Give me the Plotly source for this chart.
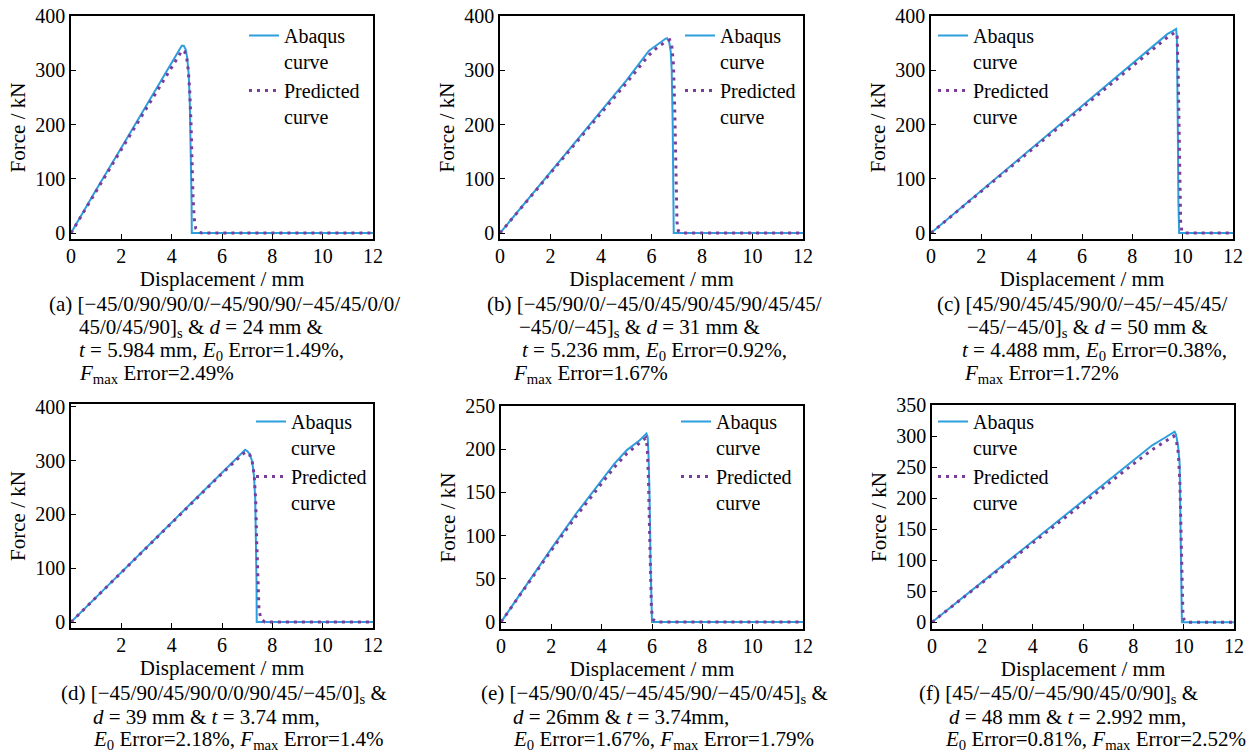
import plotly.graph_objects as go

# ---------------- data ----------------
series_names = ["Abaqus<br>curve", "Predicted<br>curve"]

a_abaqus_disp = [0, 1, 2, 3, 4, 4.2, 4.32, 4.4, 4.48, 4.56, 4.62, 4.68, 4.72, 4.76, 4.79, 4.8, 12]
a_abaqus_force = [0, 80, 157, 235, 312, 328, 339, 345, 345, 338, 322, 290, 240, 160, 60, 0, 0]
a_pred_disp = [0, 1, 2, 3, 4, 4.2, 4.32, 4.42, 4.52, 4.6, 4.66, 4.72, 4.77, 4.81, 4.85, 4.9, 4.96, 5.05, 5.2, 12]
a_pred_force = [0, 78, 154, 230, 305, 321, 331, 337, 334, 322, 300, 260, 200, 130, 65, 25, 8, 2, 0, 0]

b_abaqus_disp = [0, 1, 2, 3, 4, 5, 5.9, 6.3, 6.55, 6.62, 6.7, 6.76, 6.8, 6.84, 6.86, 6.88, 12]
b_abaqus_force = [0, 56, 112, 168, 225, 281, 336, 350, 358, 359, 352, 335, 300, 200, 100, 0, 0]
b_pred_disp = [0, 1, 2, 3, 4, 5, 5.9, 6.3, 6.6, 6.72, 6.8, 6.87, 6.92, 6.95, 6.98, 7.01, 7.06, 7.2, 12]
b_pred_force = [0, 55, 110, 165, 221, 276, 328, 345, 353, 356, 347, 310, 230, 150, 70, 20, 4, 0, 0]

c_abaqus_disp = [0, 2, 4, 6, 8, 9.4, 9.6, 9.74, 9.77, 9.79, 9.81, 9.83, 9.86, 12]
c_abaqus_force = [0, 78, 156, 234, 312, 367, 372, 376, 360, 300, 180, 60, 0, 0]
c_pred_disp = [0, 2, 4, 6, 8, 9.4, 9.7, 9.78, 9.82, 9.85, 9.88, 9.92, 9.97, 10.1, 12]
c_pred_force = [0, 77, 154, 231, 308, 361, 370, 362, 300, 180, 70, 18, 3, 0, 0]

d_abaqus_disp = [0, 1, 2, 3, 4, 5, 6, 6.85, 6.92, 7.02, 7.12, 7.2, 7.27, 7.32, 7.35, 7.37, 7.38, 12]
d_abaqus_force = [0, 46.5, 93, 139, 186, 232, 279, 318, 320, 317, 310, 298, 272, 230, 160, 80, 0, 0]
d_pred_disp = [0, 1, 2, 3, 4, 5, 6, 6.85, 6.97, 7.1, 7.2, 7.28, 7.34, 7.38, 7.42, 7.47, 7.55, 7.7, 12]
d_pred_force = [0, 46, 92, 138, 184, 230, 276, 313, 316, 311, 298, 272, 225, 150, 70, 22, 6, 0, 0]

e_abaqus_disp = [0, 1, 2, 3, 4, 4.5, 5, 5.5, 5.78, 5.83, 5.86, 5.9, 5.94, 5.97, 6.0, 12]
e_abaqus_force = [0, 43, 85, 126, 164, 183, 199, 210, 218, 214, 195, 150, 70, 20, 0, 0]
e_pred_disp = [0, 1, 2, 3, 4, 4.5, 5, 5.5, 5.75, 5.81, 5.86, 5.9, 5.94, 5.98, 6.04, 6.2, 12]
e_pred_force = [0, 42, 83, 123, 160, 179, 195, 207, 213, 203, 165, 110, 50, 14, 3, 0, 0]

f_abaqus_disp = [0, 2, 4, 6, 8, 8.75, 9.2, 9.64, 9.7, 9.78, 9.84, 9.87, 9.89, 9.91, 9.93, 12]
f_abaqus_force = [0, 65, 130, 195, 260, 285, 296, 307, 302, 283, 255, 190, 110, 40, 0, 0]
f_pred_disp = [0, 2, 4, 6, 8, 8.75, 9.2, 9.6, 9.7, 9.79, 9.85, 9.89, 9.93, 9.97, 10.02, 10.15, 12]
f_pred_force = [0, 64, 128, 191, 255, 278, 290, 300, 295, 272, 225, 140, 55, 14, 3, 0, 0]

x_ticks_full = [0, 2, 4, 6, 8, 10, 12]
x_ticks_no_zero = [2, 4, 6, 8, 10, 12]
y_ticks_400 = [0, 100, 200, 300, 400]
y_ticks_250 = [0, 50, 100, 150, 200, 250]
y_ticks_350 = [0, 50, 100, 150, 200, 250, 300, 350]

caption_a = ["(a) [−45/0/90/90/0/−45/90/90/−45/45/0/0/",
             "45/0/45/90]<sub>s</sub> & <i>d</i> = 24 mm &",
             "<i>t</i> = 5.984 mm, <i>E</i><sub>0</sub> Error=1.49%,",
             "<i>F</i><sub>max</sub> Error=2.49%"]
caption_b = ["(b) [−45/90/0/−45/0/45/90/45/90/45/45/",
             "−45/0/−45]<sub>s</sub> & <i>d</i> = 31 mm &",
             "<i>t</i> = 5.236 mm, <i>E</i><sub>0</sub> Error=0.92%,",
             "<i>F</i><sub>max</sub> Error=1.67%"]
caption_c = ["(c) [45/90/45/45/90/0/−45/−45/45/",
             "−45/−45/0]<sub>s</sub> & <i>d</i> = 50 mm &",
             "<i>t</i> = 4.488 mm, <i>E</i><sub>0</sub> Error=0.38%,",
             "<i>F</i><sub>max</sub> Error=1.72%"]
caption_d = ["(d) [−45/90/45/90/0/0/90/45/−45/0]<sub>s</sub> &",
             "<i>d</i> = 39 mm & <i>t</i> = 3.74 mm,",
             "<i>E</i><sub>0</sub> Error=2.18%, <i>F</i><sub>max</sub> Error=1.4%"]
caption_e = ["(e) [−45/90/0/45/−45/45/90/−45/0/45]<sub>s</sub> &",
             "<i>d</i> = 26mm & <i>t</i> = 3.74mm,",
             "<i>E</i><sub>0</sub> Error=1.67%, <i>F</i><sub>max</sub> Error=1.79%"]
caption_f = ["(f) [45/−45/0/−45/90/45/0/90]<sub>s</sub> &",
             "<i>d</i> = 48 mm & <i>t</i> = 2.992 mm,",
             "<i>E</i><sub>0</sub> Error=0.81%, <i>F</i><sub>max</sub> Error=2.52%"]

# ---------------- styling / layout ----------------
W, H = 1255, 754
FONT = "Liberation Serif"
BLUE = "#2d9fdd"
PURPLE = "#7a3d9c"


def fx(p):
    return p / W


def fy(p):
    return 1 - p / H


panels = [
    dict(ax=(a_abaqus_disp, a_abaqus_force), pr=(a_pred_disp, a_pred_force),
         xd=(71, 373), yd=(16, 239), yr=(-11, 400), xt=x_ticks_full, yt=y_ticks_400,
         leg=(244, 16), cap=caption_a, capx=[47, 77, 77, 77], capy=[304, 328, 351, 374]),
    dict(ax=(b_abaqus_disp, b_abaqus_force), pr=(b_pred_disp, b_pred_force),
         xd=(500, 803), yd=(16, 239), yr=(-11, 400), xt=x_ticks_full, yt=y_ticks_400,
         leg=(680, 16), cap=caption_b, capx=[485, 517, 520, 511], capy=[304, 328, 351, 374]),
    dict(ax=(c_abaqus_disp, c_abaqus_force), pr=(c_pred_disp, c_pred_force),
         xd=(931, 1233), yd=(16, 239), yr=(-11, 400), xt=x_ticks_full, yt=y_ticks_400,
         leg=(933, 16), cap=caption_c, capx=[935, 965, 960, 962], capy=[304, 328, 351, 374]),
    dict(ax=(d_abaqus_disp, d_abaqus_force), pr=(d_pred_disp, d_pred_force),
         xd=(71, 373), yd=(404, 628), yr=(-11, 405), xt=x_ticks_no_zero, yt=y_ticks_400,
         leg=(251, 402), cap=caption_d, capx=[59, 91, 91], capy=[694, 717, 740]),
    dict(ax=(e_abaqus_disp, e_abaqus_force), pr=(e_pred_disp, e_pred_force),
         xd=(501, 803), yd=(406, 629), yr=(-8, 250), xt=x_ticks_full, yt=y_ticks_250,
         leg=(676, 402), cap=caption_e, capx=[479, 511, 511], capy=[694, 717, 740]),
    dict(ax=(f_abaqus_disp, f_abaqus_force), pr=(f_pred_disp, f_pred_force),
         xd=(932, 1234), yd=(405, 629), yr=(-11, 350), xt=x_ticks_full, yt=y_ticks_350,
         leg=(933, 402), cap=caption_f, capx=[917, 947, 943], capy=[694, 717, 740]),
]

fig = go.Figure()
annotations = []
layout = dict(
    width=W, height=H,
    margin=dict(l=0, r=0, t=0, b=0, pad=0, autoexpand=False),
    paper_bgcolor="white", plot_bgcolor="white",
    font=dict(family=FONT, size=20, color="black"),
)

for i, p in enumerate(panels, start=1):
    sfx = "" if i == 1 else str(i)
    legname = "legend" + sfx
    xname, yname = "x" + sfx, "y" + sfx
    fig.add_trace(go.Scatter(
        x=p["ax"][0], y=p["ax"][1], mode="lines", name=series_names[0],
        line=dict(color=BLUE, width=2), xaxis=xname, yaxis=yname, legend=legname))
    fig.add_trace(go.Scatter(
        x=p["pr"][0], y=p["pr"][1], mode="lines", name=series_names[1],
        line=dict(color=PURPLE, width=3, dash="3px,5px"), xaxis=xname, yaxis=yname,
        legend=legname))

    common = dict(showgrid=False, zeroline=False, showline=True, linecolor="black",
                  linewidth=1.5, mirror=True, ticks="inside", ticklen=5, tickwidth=1.2,
                  tickcolor="black", automargin=False,
                  tickfont=dict(family=FONT, size=20, color="black"))
    layout["xaxis" + sfx] = dict(
        common, domain=[fx(p["xd"][0]), fx(p["xd"][1])], range=[0, 12],
        tickvals=p["xt"], anchor=yname, ticklabelstandoff=-2,
        title=dict(text="Displacement / mm", font=dict(family=FONT, size=21), standoff=0))
    layout["yaxis" + sfx] = dict(
        common, domain=[fy(p["yd"][1]), fy(p["yd"][0])], range=list(p["yr"]),
        tickvals=p["yt"], anchor=xname,
        title=dict(text="Force / kN", font=dict(family=FONT, size=21), standoff=4))
    layout[legname] = dict(
        x=fx(p["leg"][0]), y=fy(p["leg"][1]), xanchor="left", yanchor="top",
        bgcolor="rgba(0,0,0,0)", borderwidth=0, valign="top", tracegroupgap=0,
        font=dict(family=FONT, size=20, color="black"), itemwidth=30)

    for txt, cx, cy in zip(p["cap"], p["capx"], p["capy"]):
        annotations.append(dict(
            text=txt, xref="paper", yref="paper", x=fx(cx), y=fy(cy),
            xanchor="left", yanchor="middle", showarrow=False, align="left",
            font=dict(family=FONT, size=21, color="black")))

layout["annotations"] = annotations
fig.update_layout(**layout)
fig.write_html(
    "out.html",
    config={"displayModeBar": False},
    post_script="document.body.style.margin='0px';document.body.style.padding='0px';"
                "document.body.style.overflow='hidden';",
)
